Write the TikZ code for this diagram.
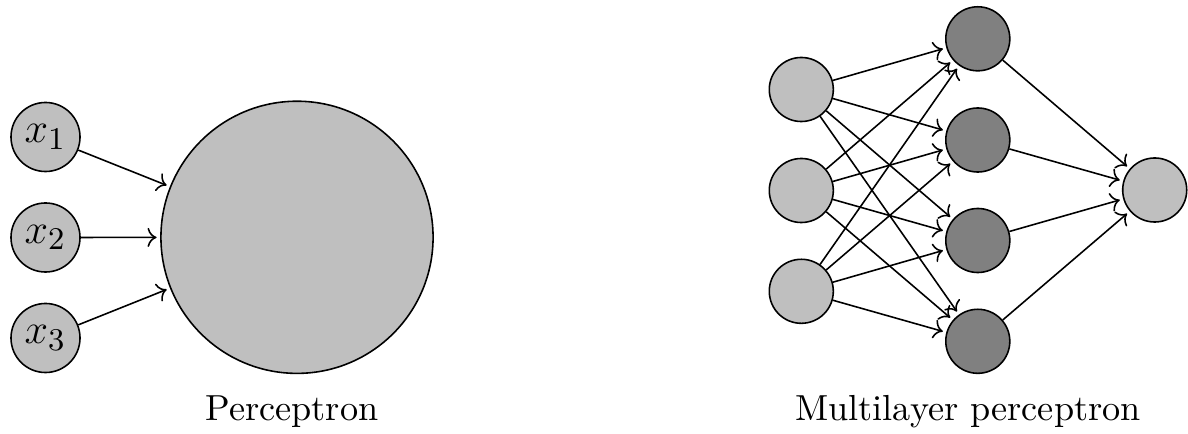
\documentclass[tikz,border=0pt]{standalone}
\usetikzlibrary{arrows.meta}
\begin{document}
\begin{tikzpicture}[x=0.01cm,y=-0.01cm,
  every node/.style={font=\fontsize{10.3}{12}\selectfont},
  neuron/.style={circle,draw=black,line width=0.45pt,inner sep=0pt},
  xin/.style={neuron,fill=black!25,minimum size=0.69cm,font=\fontsize{12.4}{14}\selectfont},
  bignode/.style={neuron,fill=black!25,minimum size=2.72cm},
  inp/.style={neuron,fill=black!25,minimum size=0.64cm},
  hid/.style={neuron,fill=black!50,minimum size=0.64cm},
  conn/.style={->,line width=0.45pt,shorten >=1pt},
  caption/.style={anchor=base}]
\useasboundingbox (0,0) rectangle (1188,434);
% Perceptron
\node[xin] (x1) at (45.5,137) {$x_1$};
\node[xin] (x2) at (45.5,237.5) {$x_2$};
\node[xin] (x3) at (45.5,338) {$x_3$};
\node[bignode] (p) at (297,237.3) {};
\foreach \i in {1,2,3} \draw[conn] (x\i) -- (p);
\node[caption] (c1) at (292,420) {Perceptron};
% MLP
\node[inp] (i1) at (801.3,89.5) {};
\node[inp] (i2) at (801.3,190.5) {};
\node[inp] (i3) at (801.3,291.3) {};
\node[hid] (h1) at (977.8,38.8) {};
\node[hid] (h2) at (977.8,140) {};
\node[hid] (h3) at (977.8,240.5) {};
\node[hid] (h4) at (977.8,341.3) {};
\node[inp] (o) at (1154.7,190) {};
\foreach \i in {1,2,3} \foreach \j in {1,2,3,4} \draw[conn] (i\i) -- (h\j);
\foreach \j in {1,2,3,4} \draw[conn] (h\j) -- (o);
\node[caption] (c2) at (968,420) {Multilayer perceptron};
\end{tikzpicture}
\end{document}
